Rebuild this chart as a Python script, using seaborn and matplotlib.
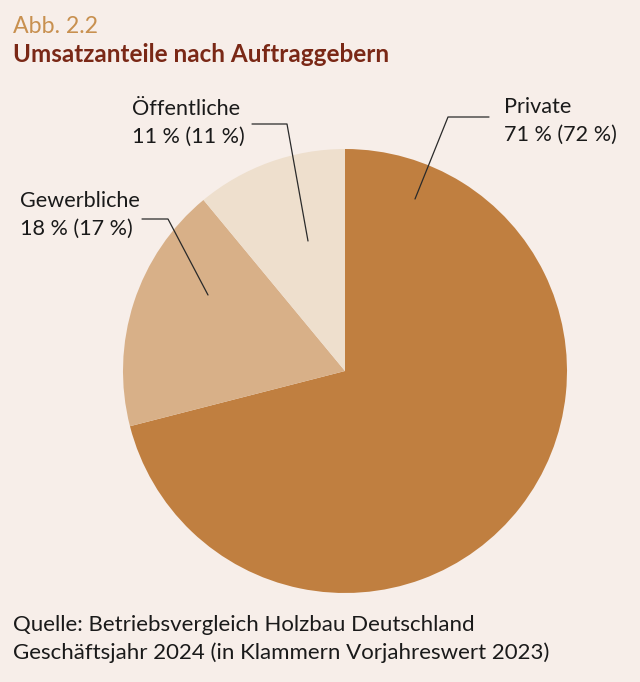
import matplotlib.pyplot as plt
import numpy as np
import seaborn as sns
from matplotlib.lines import Line2D

# data
segments = ["Private", "Gewerbliche", "Öffentliche"]
shares_2024 = [71, 18, 11]
shares_2023 = [72, 17, 11]

BG = "#f7eee9"
slice_colors = ["#c07f40", "#d8b088", "#eedfcd"]
W, H = 640, 682

sns.set_theme(style="white")
plt.rcParams["font.family"] = ["Lato", "DejaVu Sans"]


def px(x, y):
    # pixel position (from top-left) -> figure fraction
    return x / W, 1 - y / H


fig = plt.figure(figsize=(W / 100, H / 100), dpi=100, facecolor=BG)

# pie axes: centre ~ (345, 371), radius ~222 px
cx, cy, r = 345, 371, 222
ax = fig.add_axes([(cx - r) / W, (H - cy - r) / H, 2 * r / W, 2 * r / H])
ax.set_facecolor(BG)
ax.pie(
    shares_2024,
    colors=slice_colors,
    startangle=90,
    counterclock=False,
    radius=1,
    wedgeprops={"linewidth": 0},
)
ax.set_xlim(-1, 1)
ax.set_ylim(-1, 1)
ax.set_aspect("equal")
ax.axis("off")

# header
fig.text(*px(13, 33), "Abb. 2.2", color="#c8904f", fontsize=16.7, va="baseline")
fig.text(*px(13, 62), "Umsatzanteile nach Auftraggebern", color="#7a2816",
         fontsize=17.5, fontweight="bold", va="baseline")

# slice labels: (left x, first baseline), leader line points
label_pos = {
    "Private": (504, 113),
    "Öffentliche": (132, 115),
    "Gewerbliche": (20, 207),
}
leaders = {
    "Private": [(489, 117), (448, 117), (415, 199)],
    "Öffentliche": [(252, 124), (287, 124), (308, 241)],
    "Gewerbliche": [(142, 219), (168, 219), (208, 295)],
}
for name, now, prev in zip(segments, shares_2024, shares_2023):
    x, y = label_pos[name]
    fig.text(*px(x, y), name, fontsize=15.6, color="#1a1a1a", va="baseline")
    fig.text(*px(x, y + 28), f"{now} % ({prev} %)", fontsize=15.6,
             color="#1a1a1a", va="baseline")
    pts = np.array([px(*p) for p in leaders[name]])
    fig.add_artist(Line2D(pts[:, 0], pts[:, 1], transform=fig.transFigure,
                          color="#2a2a2a", linewidth=0.9))

# source
fig.text(*px(13, 631), "Quelle: Betriebsvergleich Holzbau Deutschland",
         fontsize=16, color="#1a1a1a", va="baseline")
fig.text(*px(13, 659), "Geschäftsjahr 2024 (in Klammern Vorjahreswert 2023)",
         fontsize=16, color="#1a1a1a", va="baseline")

fig.savefig("out.png", dpi=100, facecolor=BG)
